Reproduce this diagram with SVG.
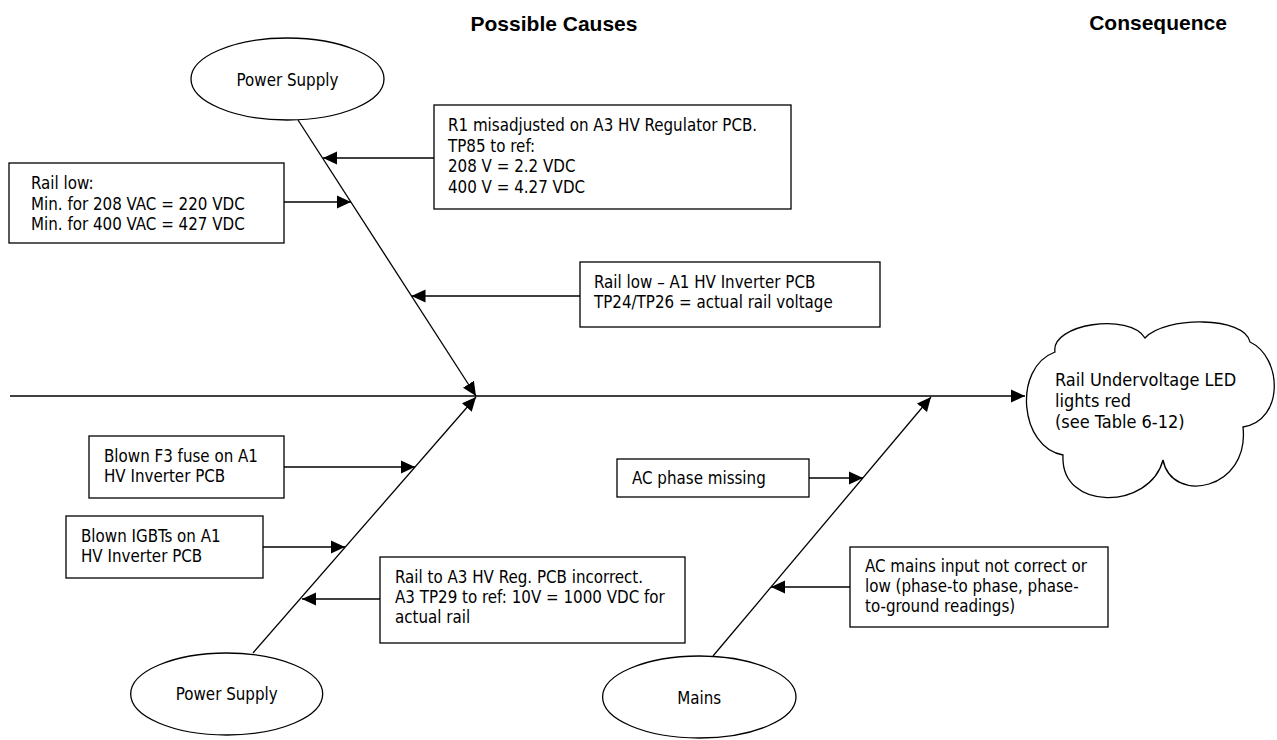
<svg xmlns="http://www.w3.org/2000/svg" width="1277" height="740" viewBox="0 0 1277 740">
<style>
.bx{fill:#fff;stroke:#000;stroke-width:1.3}
.el{fill:#fff;stroke:#000;stroke-width:1.3}
.t{font-family:"DejaVu Sans Condensed","DejaVu Sans",sans-serif;font-stretch:condensed;font-size:16.8px;fill:#000}
.c{text-anchor:middle}
.cl{font-size:18px}
.h{font-family:"Liberation Sans",Arial,sans-serif;font-weight:bold;font-size:21px;fill:#000;text-anchor:middle}
.ln{stroke:#000;stroke-width:1.3;fill:none;marker-end:url(#ah)}
</style>
<defs>
<marker id="ah" markerUnits="userSpaceOnUse" markerWidth="14" markerHeight="14" viewBox="0 0 14 14" refX="14" refY="7" orient="auto">
<path d="M0,0.5 L14,7 L0,13.5 z" fill="#000"/>
</marker>
</defs>
<rect width="1277" height="740" fill="#fff"/>
<g id="headings">
<text class="h" x="554" y="31">Possible Causes</text>
<text class="h" x="1158" y="30">Consequence</text>
</g>
<g id="connectors">
<line class="ln" x1="10" y1="396" x2="1025" y2="396"/>
<line class="ln" x1="298" y1="120" x2="476" y2="396"/>
<line class="ln" x1="253" y1="653" x2="476" y2="397"/>
<line class="ln" x1="713" y1="656" x2="931" y2="397"/>
<line class="ln" x1="434" y1="158" x2="323" y2="158"/>
<line class="ln" x1="284" y1="202" x2="351" y2="202"/>
<line class="ln" x1="580" y1="296" x2="411.5" y2="296"/>
<line class="ln" x1="284" y1="467" x2="415" y2="467"/>
<line class="ln" x1="263" y1="547" x2="345" y2="547"/>
<line class="ln" x1="380" y1="599" x2="302" y2="599"/>
<line class="ln" x1="809" y1="478" x2="863" y2="478"/>
<line class="ln" x1="850" y1="587" x2="771" y2="587"/>
</g>
<g id="ps_top">
<ellipse class="el" cx="287.5" cy="79" rx="96.5" ry="41"/>
<text class="t c" x="287.5" y="86">Power Supply</text>
</g>
<g id="r1_box">
<rect class="bx" x="434" y="105" width="357" height="104"/>
<text class="t" x="448" y="131">R1 misadjusted on A3 HV Regulator PCB.</text>
<text class="t" x="448" y="151.5">TP85 to ref:</text>
<text class="t" x="448" y="172">208 V = 2.2 VDC</text>
<text class="t" x="448" y="192.5">400 V = 4.27 VDC</text>
</g>
<g id="rail_low_box">
<rect class="bx" x="9" y="163" width="275" height="80"/>
<text class="t" x="31" y="189">Rail low:</text>
<text class="t" x="31" y="209.5">Min. for 208 VAC = 220 VDC</text>
<text class="t" x="31" y="230">Min. for 400 VAC = 427 VDC</text>
</g>
<g id="rail_low_a1_box">
<rect class="bx" x="580" y="262" width="300" height="65"/>
<text class="t" x="594" y="287.5">Rail low – A1 HV Inverter PCB</text>
<text class="t" x="594" y="307.5">TP24/TP26 = actual rail voltage</text>
</g>
<g id="f3_box">
<rect class="bx" x="89" y="436" width="195" height="62"/>
<text class="t" x="104" y="461.5">Blown F3 fuse on A1</text>
<text class="t" x="104" y="481.5">HV Inverter PCB</text>
</g>
<g id="igbt_box">
<rect class="bx" x="66" y="516" width="197" height="62"/>
<text class="t" x="81" y="541.5">Blown IGBTs on A1</text>
<text class="t" x="81" y="561.5">HV Inverter PCB</text>
</g>
<g id="rail_a3_box">
<rect class="bx" x="380" y="557" width="305" height="86"/>
<text class="t" x="395" y="583">Rail to A3 HV Reg. PCB incorrect.</text>
<text class="t" x="395" y="603">A3 TP29 to ref: 10V = 1000 VDC for</text>
<text class="t" x="395" y="623">actual rail</text>
</g>
<g id="ps_bottom">
<ellipse class="el" cx="226.7" cy="694" rx="96" ry="41"/>
<text class="t c" x="226.7" y="700">Power Supply</text>
</g>
<g id="ac_phase_box">
<rect class="bx" x="617" y="459" width="192" height="38"/>
<text class="t" x="632" y="484">AC phase missing</text>
</g>
<g id="ac_mains_box">
<rect class="bx" x="850" y="547" width="258" height="80"/>
<text class="t" x="865" y="572">AC mains input not correct or</text>
<text class="t" x="865" y="592">low (phase-to phase, phase-</text>
<text class="t" x="865" y="612">to-ground readings)</text>
</g>
<g id="mains">
<ellipse class="el" cx="699.3" cy="697" rx="96.7" ry="41"/>
<text class="t c" x="699.3" y="704">Mains</text>
</g>
<g id="consequence_cloud">
<path class="el" d="M1063,455 C1020,448 1012,368 1055,352 C1050,324 1130,312 1145,338 C1165,316 1245,316 1250,342 C1282,357 1285,420 1243,427 C1250,490 1172,505 1163,460 C1150,510 1060,512 1063,455 Z"/>
<text class="t cl" x="1055" y="386">Rail Undervoltage LED</text>
<text class="t cl" x="1055" y="407">lights red</text>
<text class="t cl" x="1055" y="428">(see Table 6-12)</text>
</g>
</svg>
